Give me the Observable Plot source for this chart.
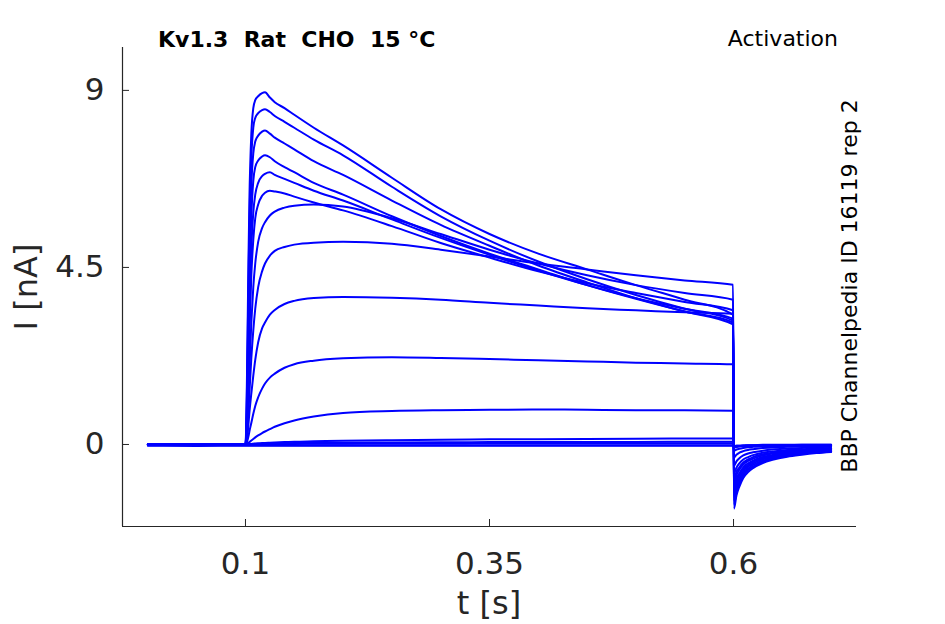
<!DOCTYPE html>
<html>
<head>
<meta charset="utf-8">
<script src="https://cdn.jsdelivr.net/npm/d3@7"></script>
<script src="https://cdn.jsdelivr.net/npm/@observablehq/plot@0.6"></script>
<style>
  html, body { margin: 0; padding: 0; background: #fff; overflow: hidden; }
</style>
</head>
<body>
<div id="chart"></div>
<script>
// ---- Data ----
const titleText = "Kv1.3  Rat  CHO  15 °C";
const protocolText = "Activation";
const sourceText = "BBP Channelpedia ID 16119 rep 2";
const xLabel = "t [s]";
const yLabel = "I [nA]";

const xTicks = [0.1, 0.35, 0.6];
const xTickLabels = ["0.1", "0.35", "0.6"];
const yTicks = [0, 4.5, 9];
const yTickLabels = ["0", "4.5", "9"];
const xDomain = [-0.026, 0.726];
const yDomain = [-2.085, 10.09];

// sample times (s)
const times = [0, 0.05, 0.0995, 0.1, 0.101, 0.102, 0.103, 0.104, 0.106, 0.108,
  0.11, 0.113, 0.117, 0.12, 0.125, 0.13, 0.14, 0.15, 0.17, 0.2,
  0.25, 0.3, 0.35, 0.4, 0.45, 0.5, 0.55, 0.5995,
  0.6005, 0.603, 0.606, 0.61, 0.615, 0.62, 0.63, 0.64, 0.655, 0.67, 0.685, 0.7];

// current traces (nA), one per voltage step
const trace1  = [0,0,0, 0,0.8,2.6,4.6,6.2,7.9,8.55, 8.75,8.85,8.93,8.95,8.82,8.7,8.55,8.38,8.05,7.6, 6.78,5.98,5.35,4.85,4.45,4.05,3.68,3.3,
  -1.63,-1.3,-1.07,-0.85,-0.7,-0.6,-0.47,-0.39,-0.31,-0.26,-0.22,-0.19];
const trace2  = [0,0,0, 0,0.6,2.2,4.0,5.6,7.3,8.05, 8.3,8.42,8.5,8.52,8.45,8.35,8.2,8.05,7.75,7.35, 6.55,5.8,5.18,4.65,4.2,3.8,3.45,3.15,
  -1.52,-1.21,-1.0,-0.79,-0.65,-0.56,-0.44,-0.36,-0.29,-0.24,-0.2,-0.18];
const trace3  = [0,0,0, 0,0.5,1.8,3.4,4.9,6.6,7.4, 7.7,7.85,7.95,7.98,7.9,7.8,7.65,7.5,7.2,6.85, 6.2,5.58,5.05,4.55,4.12,3.72,3.38,3.05,
  -1.42,-1.13,-0.93,-0.74,-0.61,-0.52,-0.41,-0.34,-0.27,-0.23,-0.19,-0.17];
const trace4  = [0,0,0, 0,0.4,1.4,2.8,4.1,5.8,6.7, 7.05,7.22,7.32,7.35,7.3,7.2,7.05,6.92,6.65,6.35, 5.8,5.3,4.85,4.45,4.05,3.7,3.38,3.1,
  -1.3,-1.04,-0.86,-0.68,-0.56,-0.48,-0.38,-0.31,-0.25,-0.21,-0.18,-0.15];
const trace5  = [0,0,0, 0,0.3,1.1,2.2,3.4,5.0,5.9, 6.35,6.65,6.82,6.88,6.92,6.85,6.75,6.65,6.45,6.2, 5.72,5.25,4.82,4.42,4.05,3.72,3.45,3.2,
  -1.21,-0.96,-0.79,-0.63,-0.52,-0.44,-0.35,-0.29,-0.23,-0.19,-0.16,-0.14];
const trace6  = [0,0,0, 0,0.25,0.9,1.8,2.8,4.3,5.2, 5.75,6.1,6.32,6.4,6.45,6.43,6.38,6.3,6.15,5.95, 5.55,5.12,4.75,4.4,4.1,3.85,3.62,3.41,
  -1.11,-0.88,-0.73,-0.58,-0.48,-0.41,-0.32,-0.27,-0.21,-0.18,-0.15,-0.13];
const trace7  = [0,0,0, 0,0.15,0.6,1.2,1.9,3.1,4.0, 4.6,5.15,5.5,5.65,5.82,5.92,6.02,6.07,6.1,6.05, 5.75,5.35,4.95,4.6,4.3,4.05,3.85,3.68,
  -0.98,-0.78,-0.64,-0.51,-0.42,-0.36,-0.28,-0.23,-0.19,-0.16,-0.13,-0.11];
const trace8  = [0,0,0, 0,0.1,0.4,0.8,1.3,2.2,2.9, 3.45,4.0,4.4,4.6,4.8,4.92,5.02,5.08,5.13,5.15, 5.1,4.95,4.78,4.6,4.45,4.3,4.17,4.06,
  -0.88,-0.7,-0.58,-0.46,-0.38,-0.32,-0.25,-0.21,-0.17,-0.14,-0.12,-0.1];
const trace9  = [0,0,0, 0,0.06,0.25,0.5,0.8,1.3,1.75, 2.15,2.6,2.95,3.1,3.3,3.42,3.57,3.65,3.72,3.75, 3.73,3.68,3.6,3.53,3.46,3.41,3.36,3.32,
  -0.73,-0.59,-0.48,-0.38,-0.32,-0.27,-0.21,-0.18,-0.14,-0.12,-0.1,-0.09];
const trace10 = [0,0,0, 0,0.02,0.1,0.2,0.33,0.55,0.78, 0.98,1.2,1.42,1.55,1.7,1.8,1.95,2.04,2.13,2.19, 2.22,2.2,2.17,2.14,2.11,2.08,2.06,2.04,
  -0.54,-0.43,-0.35,-0.28,-0.23,-0.2,-0.16,-0.13,-0.1,-0.09,-0.07,-0.06];
const trace11 = [0,0,0, 0,0.01,0.02,0.04,0.06,0.1,0.14, 0.18,0.23,0.29,0.33,0.39,0.45,0.54,0.61,0.71,0.8, 0.85,0.87,0.88,0.89,0.88,0.87,0.87,0.86,
  -0.33,-0.26,-0.21,-0.17,-0.14,-0.12,-0.09,-0.08,-0.06,-0.05,-0.04,-0.04];
const trace12 = [0,0,0, 0,0,0,0.005,0.01,0.015,0.02, 0.025,0.03,0.035,0.04,0.045,0.05,0.06,0.07,0.08,0.095, 0.11,0.12,0.13,0.135,0.14,0.145,0.15,0.15,
  -0.16,-0.13,-0.11,-0.09,-0.07,-0.06,-0.05,-0.04,-0.03,-0.03,-0.02,-0.02];
const trace13 = [0,-0.01,0, 0,0,0,0,0.005,0.01,0.01, 0.015,0.015,0.02,0.02,0.025,0.025,0.03,0.035,0.04,0.045, 0.05,0.055,0.06,0.06,0.065,0.065,0.07,0.07,
  -0.08,-0.07,-0.05,-0.04,-0.04,-0.03,-0.02,-0.02,-0.02,-0.01,-0.01,-0.01];
const trace14 = [0,0,-0.01, 0,0,0,0,0,0,0, 0.005,0.005,0.01,0.01,0.01,0.01,0.015,0.015,0.02,0.02, 0.025,0.025,0.03,0.03,0.03,0.03,0.03,0.03,
  -0.04,-0.03,-0.03,-0.02,-0.02,-0.02,-0.01,-0.01,-0.01,-0.01,-0.01,-0.01];
const trace15 = [-0.02,-0.02,-0.02, -0.02,-0.02,-0.02,-0.02,-0.02,-0.02,-0.02, -0.02,-0.02,-0.02,-0.02,-0.02,-0.02,-0.02,-0.02,-0.02,-0.02, -0.02,-0.02,-0.02,-0.02,-0.02,-0.02,-0.02,-0.02,
  -0.04,-0.03,-0.03,-0.03,-0.02,-0.02,-0.02,-0.02,-0.02,-0.02,-0.02,-0.02];
const trace16 = [-0.03,-0.04,-0.03, -0.03,-0.03,-0.03,-0.03,-0.03,-0.03,-0.03, -0.03,-0.03,-0.03,-0.03,-0.03,-0.03,-0.03,-0.03,-0.03,-0.03, -0.03,-0.03,-0.03,-0.03,-0.03,-0.03,-0.03,-0.03,
  -0.05,-0.04,-0.04,-0.04,-0.03,-0.03,-0.03,-0.03,-0.03,-0.03,-0.03,-0.03];

const traces = [trace1, trace2, trace3, trace4, trace5, trace6, trace7, trace8,
  trace9, trace10, trace11, trace12, trace13, trace14, trace15, trace16];

// ---- Build long table for Plot ----
const rows = [];
traces.forEach((vals, k) => {
  vals.forEach((v, i) => rows.push({trace: k, t: times[i], I: v}));
});

const axisColor = "#262626";
const font = "DejaVu Sans";

const plot = Plot.plot({
  width: 945,
  height: 624,
  marginLeft: 122,
  marginRight: 89,
  marginTop: 47,
  marginBottom: 98,
  style: {fontFamily: font, background: "white", color: axisColor},
  x: {domain: xDomain, label: null},
  y: {domain: yDomain, label: null},
  marks: [
    Plot.line(rows, {x: "t", y: "I", z: "trace", stroke: "#0000ff", strokeWidth: 2, curve: "monotone-x"}),
    Plot.ruleX([xDomain[0]], {stroke: axisColor, strokeWidth: 1.2}),
    Plot.ruleY([yDomain[0]], {stroke: axisColor, strokeWidth: 1.2}),
    // inward ticks
    Plot.axisX({ticks: xTicks, tickSize: 7, dy: -7, tickFormat: () => "", label: null, stroke: axisColor}),
    Plot.axisY({ticks: yTicks, tickSize: 7, dx: 7, tickFormat: () => "", label: null, stroke: axisColor}),
    // tick labels
    Plot.axisX({ticks: xTicks, tickSize: 0, tickPadding: 25, fontSize: 31, label: null,
      tickFormat: d => xTickLabels[xTicks.indexOf(d)], fill: axisColor}),
    Plot.axisY({ticks: yTicks, tickSize: 0, tickPadding: 18, fontSize: 31, label: null,
      tickFormat: d => yTickLabels[yTicks.indexOf(d)], fill: axisColor})
  ]
});

const svg = d3.select(plot);
svg.append("text")
  .attr("x", 158).attr("y", 47)
  .attr("text-anchor", "start")
  .attr("font-family", font).attr("font-size", 22).attr("font-weight", "bold")
  .attr("fill", "#000")
  .text(titleText);
svg.append("text")
  .attr("x", 838).attr("y", 46)
  .attr("text-anchor", "end")
  .attr("font-family", font).attr("font-size", 22)
  .attr("fill", "#000")
  .text(protocolText);
svg.append("text")
  .attr("transform", "translate(857,286) rotate(-90)")
  .attr("text-anchor", "middle")
  .attr("font-family", font).attr("font-size", 22)
  .attr("fill", "#000")
  .text(sourceText);
svg.append("text")
  .attr("transform", "translate(37,287) rotate(-90)")
  .attr("text-anchor", "middle")
  .attr("font-family", font).attr("font-size", 32)
  .attr("fill", axisColor)
  .text(yLabel);
svg.append("text")
  .attr("x", 489).attr("y", 614)
  .attr("text-anchor", "middle")
  .attr("font-family", font).attr("font-size", 32)
  .attr("fill", axisColor)
  .text(xLabel);

document.getElementById("chart").appendChild(plot);
</script>
</body>
</html>
